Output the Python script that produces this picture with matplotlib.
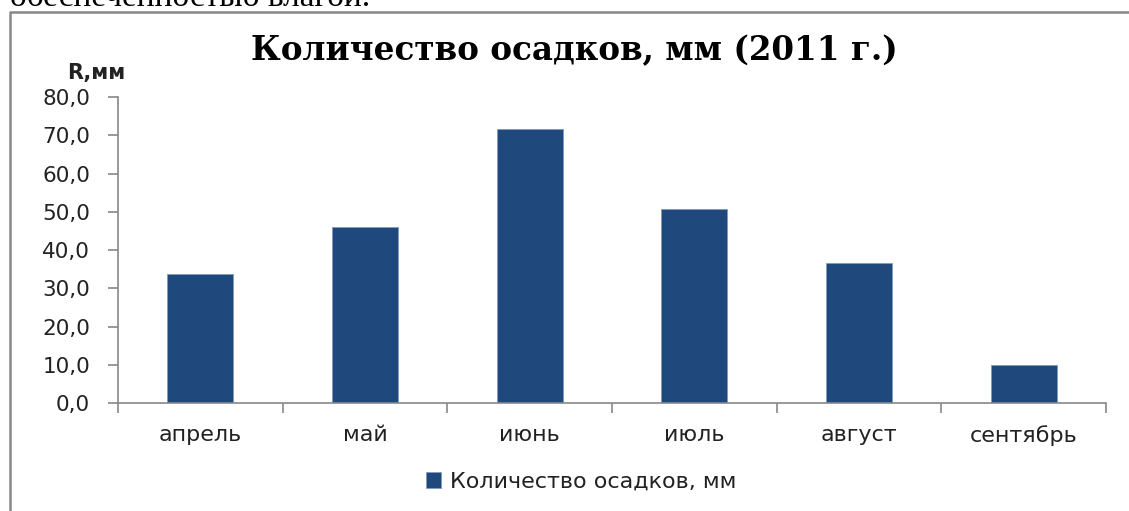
import matplotlib.pyplot as plt
from matplotlib.lines import Line2D
from matplotlib.ticker import FixedLocator, FuncFormatter

months = ['апрель', 'май', 'июнь', 'июль', 'август', 'сентябрь']
rain = [33.7, 46.0, 71.6, 50.7, 36.6, 9.9]
series_name = 'Количество осадков, мм'
title = 'Количество осадков, мм (2011 г.)'

W, H = 1129, 511
fig = plt.figure(figsize=(W / 100, H / 100), dpi=100)
ax = fig.add_axes([118 / W, 1 - 403 / H, (1106 - 118) / W, (403 - 97) / H])

axis_col = '#888888'
x = list(range(len(months)))
ax.bar(x, rain, width=0.4, color='#1F497D', edgecolor='#7F9BC0',
       linewidth=0.6, label=series_name, zorder=2)

ax.set_xlim(-0.5, len(months) - 0.5)
ax.set_ylim(0, 80)
ax.set_yticks(range(0, 81, 10))
ax.yaxis.set_major_formatter(FuncFormatter(lambda v, p: f'{v:.1f}'.replace('.', ',')))

# category boundaries get the tick marks, labels sit in the middle
ax.xaxis.set_major_locator(FixedLocator([i - 0.5 for i in range(len(months) + 1)]))
ax.xaxis.set_minor_locator(FixedLocator(x))
ax.set_xticklabels([''] * (len(months) + 1))
ax.set_xticklabels(months, minor=True)
ax.tick_params(axis='x', which='minor', length=0, pad=16, labelsize=16,
               labelcolor='#222222')
ax.tick_params(axis='x', which='major', length=7, width=1.2, color=axis_col)
ax.tick_params(axis='y', length=7, width=1.2, color=axis_col, pad=13,
               labelsize=15.5, labelcolor='#222222')

for s in ['top', 'right']:
    ax.spines[s].set_visible(False)
for s in ['left', 'bottom']:
    ax.spines[s].set_color(axis_col)
    ax.spines[s].set_linewidth(1.2)

fig.text(0.509, 1 - 51 / H, title, ha='center', va='center',
         fontsize=23.5, fontweight='bold', family='DejaVu Serif')
fig.text(96 / W, 1 - 73 / H, 'R,мм', ha='center', va='center',
         fontsize=15, fontweight='bold', color='#222222')

# clipped line of document text above the chart
fig.text(370 / W, 1 + 2 / H, 'обеспеченностью влагой.', ha='right',
         va='center', fontsize=24, family='Liberation Serif')

# chart frame
fig.add_artist(Line2D([10 / W, 10 / W, 1], [0, 1 - 12 / H, 1 - 12 / H],
                      color='#888888', linewidth=1.8))

ax.legend(loc='center', bbox_to_anchor=(581 / W, 1 - 482 / H),
          bbox_transform=fig.transFigure, frameon=False, fontsize=16,
          handlelength=0.7, handleheight=0.7, handletextpad=0.4,
          labelcolor='#222222')

fig.savefig('out.png', dpi=100)
